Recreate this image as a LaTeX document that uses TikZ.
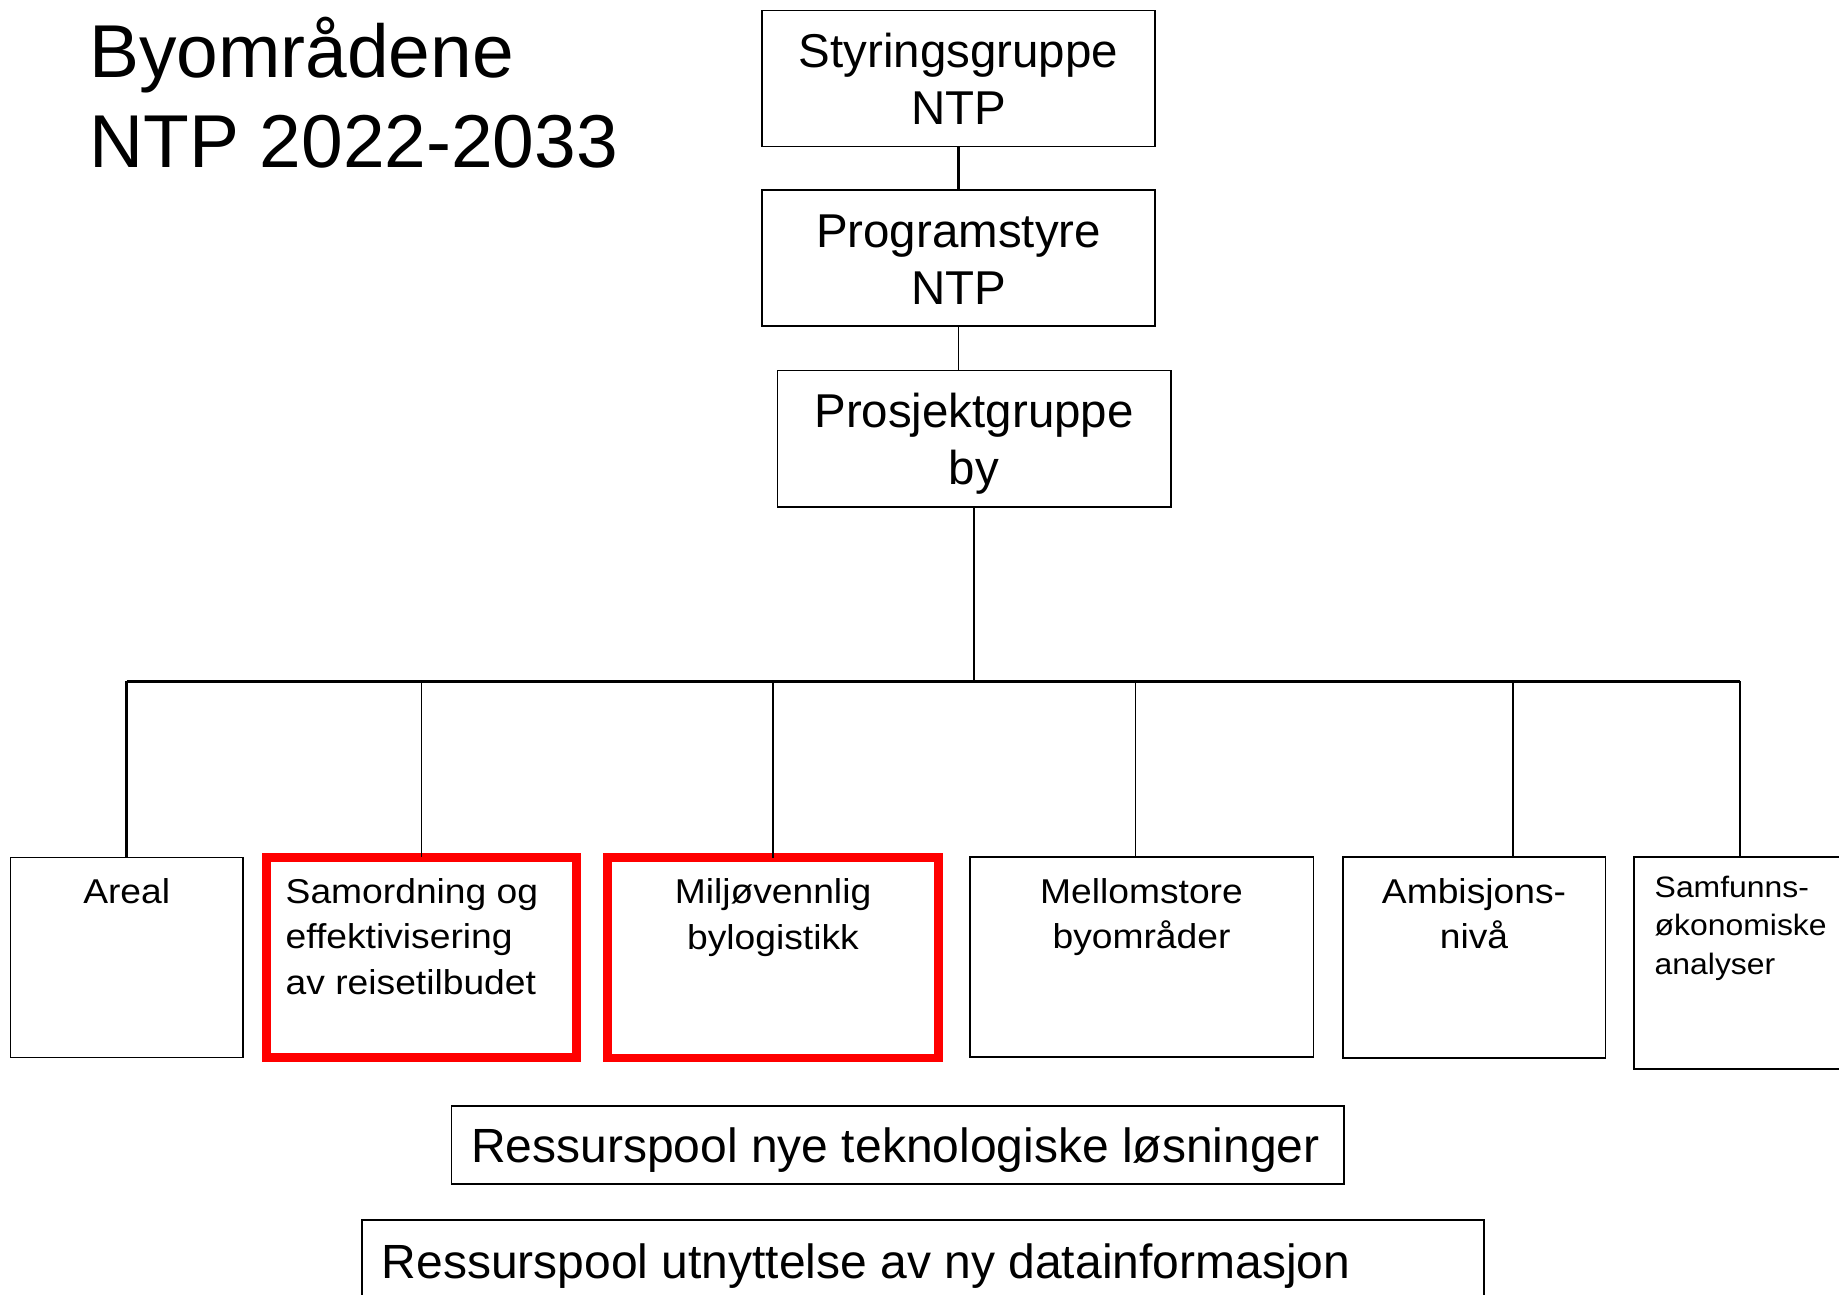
\documentclass[tikz,border=0pt]{standalone}
\usepackage{fontspec}
\setmainfont{Liberation Sans}
\newfontfamily\widesans[FakeStretch=1.08]{Liberation Sans}
\newcommand\topstrut{\rule{0pt}{1em}}
\begin{document}
\begin{tikzpicture}[x=0.01cm,y=-0.01cm,
  box/.style={draw=black, line width=0.5pt, inner sep=0pt, outer sep=0pt, fill=none},
  redbox/.style={draw=red, line width=2.4pt, inner sep=0pt, outer sep=0pt},
  thickline/.style={line width=0.75pt},
  midline/.style={line width=0.6pt},
  thinline/.style={line width=0.3pt},
  titletext/.style={anchor=north west, inner sep=0pt, align=left, font=\fontsize{21.3}{25.6}\selectfont},
  toptext/.style={anchor=north, inner sep=0pt, align=center, font=\fontsize{13.5}{16.1}\selectfont},
  subtext/.style={anchor=north, inner sep=0pt, align=center, font=\widesans\fontsize{9.8}{13.0}\selectfont},
  subtextl/.style={anchor=north west, inner sep=0pt, align=left, font=\widesans\fontsize{9.8}{13.0}\selectfont},
  smalltext/.style={anchor=north west, inner sep=0pt, align=left, font=\widesans\fontsize{8.4}{10.9}\selectfont},
  pooltext/.style={anchor=north west, inner sep=0pt, align=left, font=\fontsize{13.65}{16}\selectfont}
]
\useasboundingbox (0,0) rectangle (1839,1295);

% title
\node[titletext] (title) at (88.5,2.2) {\topstrut Byområdene\\NTP 2022-2033};

% top hierarchy
\node[box, minimum width=3.93cm, minimum height=1.36cm] (styr) at (958.5,78.5) {};
\node[toptext] (styrt) at (958.5,19.7) {\topstrut Styringsgruppe\\NTP};
\node[box, minimum width=3.93cm, minimum height=1.36cm] (prog) at (958.5,258) {};
\node[toptext] (progt) at (958.5,199.7) {\topstrut Programstyre\\NTP};
\node[box, minimum width=3.93cm, minimum height=1.36cm] (pros) at (974,438.6) {};
\node[toptext] (prost) at (974,379.7) {\topstrut Prosjektgruppe\\by};

\draw[midline] (styr.south) -- (styr.south |- prog.north);
\draw[thinline] (prog.south) -- (prog.south |- pros.north);

% bottom boxes
\node[box, minimum width=2.322cm, minimum height=2.0cm] (areal) at (126.7,957.5) {};
\node[subtext] (arealt) at (126.7,868.5) {\topstrut Areal};
\node[redbox, minimum width=3.10cm, minimum height=2.0cm] (samord) at (421.5,957.5) {};
\node[subtextl] (samordt) at (285,868) {\topstrut Samordning og\\effektivisering\\av reisetilbudet};
\node[redbox, minimum width=3.31cm, minimum height=2.0cm] (miljo) at (773,957.7) {};
\node[subtext] (miljot) at (773,868.2) {\topstrut Miljøvennlig\\bylogistikk};
\node[box, minimum width=3.435cm, minimum height=2.0cm] (mellom) at (1141.7,957) {};
\node[subtext] (mellomt) at (1141.5,868) {\topstrut Mellomstore\\byområder};
\node[box, minimum width=2.62cm, minimum height=2.01cm] (ambi) at (1474.3,957.3) {};
\node[subtext] (ambit) at (1474,868) {\topstrut Ambisjons-\\nivå};
\node[box, minimum width=2.46cm, minimum height=2.12cm] (samf) at (1757,963.3) {};
\node[smalltext] (samft) at (1654,867.2) {\topstrut Samfunns-\\økonomiske\\analyser};

% resource pools
\node[box, minimum width=8.923cm, minimum height=0.783cm] (pool1) at (897.9,1145.2) {};
\node[pooltext] (pool1t) at (470.5,1114) {\topstrut Ressurspool nye teknologiske løsninger};
\node[box, minimum width=11.212cm, minimum height=1.0cm] (pool2) at (923,1270) {};
\node[pooltext] (pool2t) at (381,1229.5) {\topstrut Ressurspool utnyttelse av ny datainformasjon};

% bus
\coordinate (busL) at (126.7,681.5);
\coordinate (busR) at (1740,681.5);
\coordinate (j2) at (421.5,681.5);
\coordinate (j3) at (773,681.5);
\coordinate (j4) at (1135.3,681.5);
\coordinate (j5) at (1513,681.5);

\draw[thickline] (pros.south) -- (pros.south |- busL);
\draw[thickline] (busL) -- (busR);
\draw[thickline] (busL) -- (busL |- areal.north);
\draw[thinline] (j2) -- (j2 |- samord.north);
\draw[midline] (j3) -- (j3 |- miljo.north);
\draw[thinline] (j4) -- (j4 |- mellom.north);
\draw[midline] (j5) -- (j5 |- ambi.north);
\draw[midline] (busR) -- (busR |- samf.north);
\end{tikzpicture}
\end{document}
